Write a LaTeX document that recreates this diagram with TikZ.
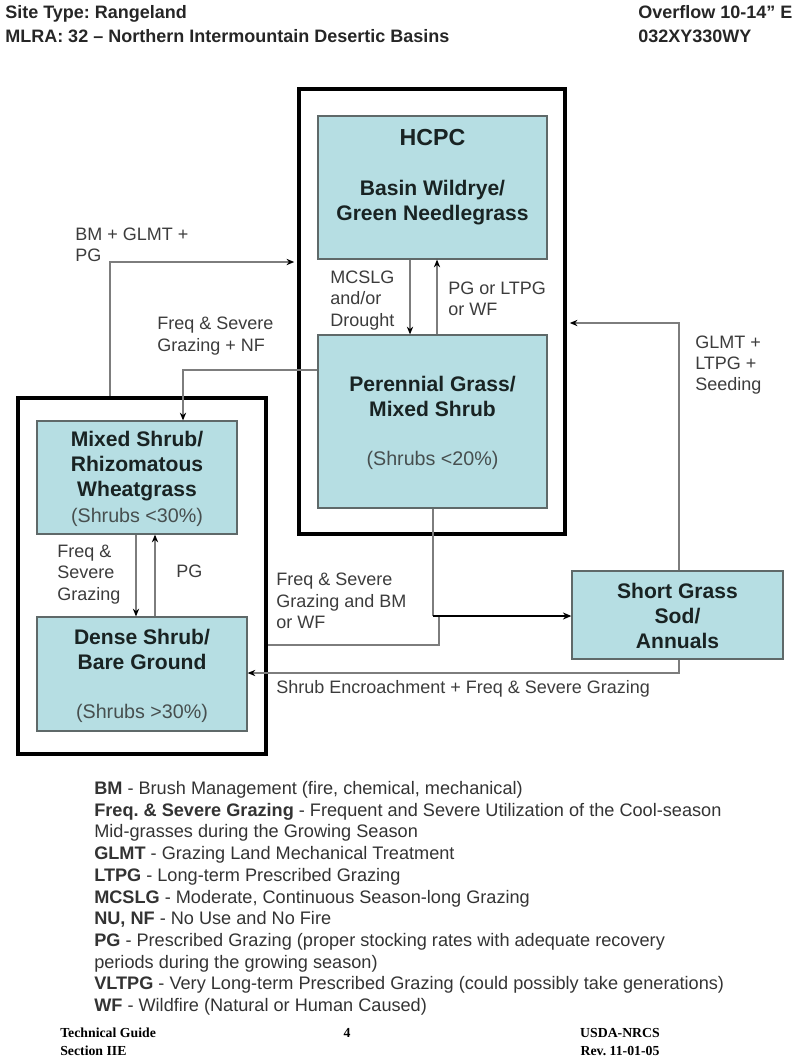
\documentclass[tikz,border=0pt]{standalone}
\usepackage{fontspec}
\setmainfont{Liberation Sans}
\newfontfamily\footfont{Liberation Serif}
\usepackage{tikz}
\usetikzlibrary{arrows.meta, fit, positioning}
\frenchspacing
\definecolor{boxfill}{RGB}{182,222,227}
\definecolor{boxline}{RGB}{95,105,105}
\definecolor{linegray}{RGB}{125,125,125}
\definecolor{labelgray}{RGB}{60,60,60}
\definecolor{boxtextcol}{RGB}{25,35,35}
\tikzset{
	head/.style={font=\fontsize{12.8}{15}\selectfont\bfseries, inner sep=0pt, text=black!85},
	state/.style={draw=boxline, line width=0.9pt, fill=boxfill, inner sep=0pt},
	group/.style={draw=black, line width=3.4pt, inner sep=0pt},
	title/.style={font=\fontsize{15}{17.6}\selectfont\bfseries, align=center, inner sep=0pt, text=boxtextcol},
	share/.style={font=\fontsize{14}{16}\selectfont, inner sep=0pt, text=boxtextcol!80},
	lbl/.style={font=\fontsize{12.8}{15.2}\selectfont, align=left, anchor=west, inner sep=0pt, text=labelgray},
	conn/.style={draw=linegray, line width=0.8pt, arrows={-Stealth[length=5.5pt, width=4.5pt, color=black]}},
	connthick/.style={draw=black, line width=2pt, arrows={-Stealth[length=6pt, width=5pt]}},
	legend/.style={font=\fontsize{12.9}{15.45}\selectfont, align=left, anchor=north west, inner sep=0pt, text=black!80},
	foot/.style={font=\footfont\fontsize{9.8}{12.8}\selectfont\bfseries, align=center, inner sep=0pt}
}

\begin{document}
\begin{tikzpicture}[x=0.025cm, y=-0.025cm]
	\useasboundingbox (0,0) rectangle (800,1064);

	\node[head, anchor=base west] (site) at (5,18.5) {Site Type: Rangeland};
	\node[head, anchor=base west] (mlra) at (5,42.5) {MLRA: 32 – Northern Intermountain Desertic Basins};
	\node[head, anchor=base west] (overflow) at (638,18.5) {Overflow 10-14" E};
	\node[head, anchor=base west] (siteid) at (638,42.5) {032XY330WY};

	\node[group, fit={(299,89) (565,534)}] (hcpcgrp) {};
	\node[group, fit={(18,398) (266,754)}] (shrubgrp) {};

	\node[state, fit={(318,116) (547,259)}] (hcpc) {};
	\node[state, fit={(318,335) (547,508)}] (perennial) {};
	\node[state, fit={(37,421) (237,534)}] (mixed) {};
	\node[state, fit={(37,617) (247,731)}] (dense) {};
	\node[state, fit={(572,571) (783,659)}] (shortgrass) {};

	\node[title, font=\fontsize{16.5}{18}\selectfont\bfseries] (hcpctext) at (432.5,138) {HCPC};
	\node[title] (hcpcname) at (432.5,202.5) {Basin Wildrye/\\Green Needlegrass};
	\node[title] (perennialname) at (432.5,396.5) {Perennial Grass/\\Mixed Shrub};
	\node[share] (perennialshare) at (432.5,460) {(Shrubs <20\%)};
	\node[title] (mixedname) at (137,466) {Mixed Shrub/\\Rhizomatous\\Wheatgrass};
	\node[share] (mixedshare) at (137,517) {(Shrubs <30\%)};
	\node[title] (densename) at (142,649.5) {Dense Shrub/\\Bare Ground};
	\node[share] (denseshare) at (142,713) {(Shrubs >30\%)};
	\node[title] (shortname) at (677.5,616) {Short Grass\\Sod/\\Annuals};

	\coordinate (bmx) at (110,262);
	\coordinate (nfx) at (183,370);
	\coordinate (dnx) at (410,0);
	\coordinate (upx) at (437,0);
	\coordinate (mdx) at (136,0);
	\coordinate (dmx) at (155,0);
	\coordinate (pjoin) at (433,616);
	\coordinate (djoin) at (439,645);
	\coordinate (encx) at (679,673);
	\coordinate (seedx) at (679,323);

	\draw[conn, shorten >=1.7pt] (shrubgrp.north -| bmx) |- (hcpcgrp.west |- bmx);
	\draw[conn] (perennial.west |- nfx) -| (mixed.north -| nfx);
	\draw[conn] (hcpc.south -| dnx) -- (perennial.north -| dnx);
	\draw[conn] (perennial.north -| upx) -- (hcpc.south -| upx);
	\draw[conn] (mixed.south -| mdx) -- (dense.north -| mdx);
	\draw[conn] (dense.north -| dmx) -- (mixed.south -| dmx);
	\draw[conn, -] (perennial.south -| pjoin) -- (pjoin);
	\draw[conn, -] (shrubgrp.east |- djoin) -| (pjoin -| djoin);
	\draw[connthick] (pjoin) -- (shortgrass.west |- pjoin);
	\draw[conn] (shortgrass.south -| encx) |- (dense.east |- encx);
	\draw[conn, shorten >=1.7pt] (shortgrass.north -| seedx) |- (hcpcgrp.east |- seedx);

	\node[lbl] (bmlbl) at (75,245) {BM + GLMT +\\PG};
	\node[lbl] (nflbl) at (157,336) {Freq \& Severe\\Grazing + NF};
	\node[lbl] (mcslglbl) at (330,300.5) {MCSLG\\and/or\\Drought};
	\node[lbl] (pglbl) at (448,299) {PG or LTPG\\or WF};
	\node[lbl] (seedlbl) at (695,365) {GLMT +\\LTPG +\\Seeding};
	\node[lbl] (freqlbl) at (57,574.5) {Freq \&\\Severe\\Grazing};
	\node[lbl] (pgmixlbl) at (176,571) {PG};
	\node[lbl] (bmwflbl) at (276,601) {Freq \& Severe\\Grazing and BM\\or WF};
	\node[lbl] (enclbl) at (276,689) {Shrub Encroachment + Freq \& Severe Grazing};

	\node[legend] (key) at (94,781) {\textbf{BM} - Brush Management (fire, chemical, mechanical)\\
		\textbf{Freq. \& Severe Grazing} - Frequent and Severe Utilization of the Cool-season\\
		Mid-grasses during the Growing Season\\
		\textbf{GLMT} - Grazing Land Mechanical Treatment\\
		\textbf{LTPG} - Long-term Prescribed Grazing\\
		\textbf{MCSLG} - Moderate, Continuous Season-long Grazing\\
		\textbf{NU, NF} - No Use and No Fire\\
		\textbf{PG} - Prescribed Grazing (proper stocking rates with adequate recovery\\
		periods during the growing season)\\
		\textbf{VLTPG} - Very Long-term Prescribed Grazing (could possibly take generations)\\
		\textbf{WF} - Wildfire (Natural or Human Caused)};

	\node[foot, align=left, anchor=west] (guide) at (60,1042) {Technical Guide\\Section IIE};
	\node[foot] (page) at (347,1033) {4};
	\node[foot] (agency) at (620,1042) {USDA-NRCS\\Rev. 11-01-05};
\end{tikzpicture}
\end{document}
